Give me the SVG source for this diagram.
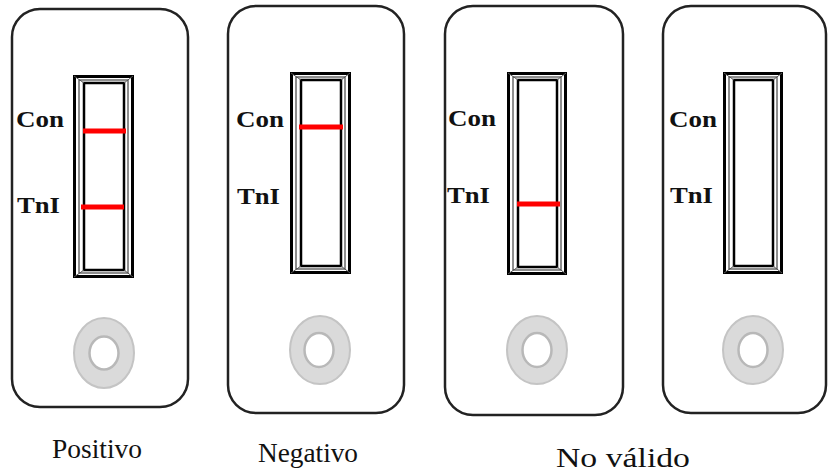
<svg xmlns="http://www.w3.org/2000/svg" width="828" height="472" viewBox="0 0 828 472">
  <style>
    .card { fill: #ffffff; stroke: #222222; stroke-width: 2.5; }
    .win-outer { fill: none; stroke: #000000; stroke-width: 3; }
    .win-mid { fill: none; stroke: #444444; stroke-width: 1.2; }
    .win-inner { fill: #ffffff; stroke: #000000; stroke-width: 2.5; }
    .bevel { stroke: #555555; stroke-width: 1; }
    .band { stroke: #ff0000; stroke-width: 5; }
    .well-outer { fill: #dadada; stroke: #c4c4c4; stroke-width: 2; }
    .well-inner { fill: #ffffff; stroke: #b8b8b8; stroke-width: 2.5; }
    .lbl { font-family: "Liberation Serif", "Times New Roman", serif; font-size: 23px; font-weight: bold; fill: #111111; }
    .cap { font-family: "Liberation Serif", "Times New Roman", serif; font-size: 28px; fill: #111111; }
  </style>
  <rect width="828" height="472" fill="#ffffff"/>

  <g id="card-positivo">
    <rect class="card" x="12" y="9" width="176" height="398" rx="28" ry="28"/>
    <rect class="win-outer" x="74.5" y="76.5" width="58" height="200"/>
    <rect class="win-mid" x="79" y="80" width="49" height="193"/>
    <rect class="win-inner" x="84" y="83" width="40" height="187"/>
    <line class="bevel" x1="74" y1="76" x2="84" y2="83"/>
    <line class="bevel" x1="133" y1="76" x2="124" y2="83"/>
    <line class="bevel" x1="74" y1="277" x2="84" y2="270"/>
    <line class="bevel" x1="133" y1="277" x2="124" y2="270"/>
    <line class="band" x1="83" y1="131" x2="126" y2="131"/>
    <line class="band" x1="81" y1="207" x2="124" y2="207"/>
    <text class="lbl" x="16" y="127" textLength="48" lengthAdjust="spacingAndGlyphs">Con</text>
    <text class="lbl" x="17" y="213" textLength="43" lengthAdjust="spacingAndGlyphs">TnI</text>
    <ellipse class="well-outer" cx="104" cy="353" rx="30" ry="35"/>
    <ellipse class="well-inner" cx="104" cy="353" rx="14.5" ry="16.5"/>
  </g>

  <g id="card-negativo">
    <rect class="card" x="228" y="6" width="176" height="407" rx="28" ry="28"/>
    <rect class="win-outer" x="291.5" y="73.5" width="58" height="199"/>
    <rect class="win-mid" x="296" y="77" width="49" height="192"/>
    <rect class="win-inner" x="301" y="80" width="40" height="186"/>
    <line class="bevel" x1="291" y1="73" x2="301" y2="80"/>
    <line class="bevel" x1="350" y1="73" x2="341" y2="80"/>
    <line class="bevel" x1="291" y1="273" x2="301" y2="266"/>
    <line class="bevel" x1="350" y1="273" x2="341" y2="266"/>
    <line class="band" x1="299" y1="127" x2="343" y2="127"/>
    <text class="lbl" x="236" y="127" textLength="48" lengthAdjust="spacingAndGlyphs">Con</text>
    <text class="lbl" x="237" y="204" textLength="43" lengthAdjust="spacingAndGlyphs">TnI</text>
    <ellipse class="well-outer" cx="320" cy="350" rx="30" ry="34"/>
    <ellipse class="well-inner" cx="319" cy="350" rx="14.5" ry="17"/>
  </g>

  <g id="card-novalido-1">
    <rect class="card" x="445" y="6" width="178" height="409" rx="28" ry="28"/>
    <rect class="win-outer" x="508.5" y="73.5" width="57" height="200"/>
    <rect class="win-mid" x="513" y="77" width="48" height="193"/>
    <rect class="win-inner" x="518" y="80" width="39" height="187"/>
    <line class="bevel" x1="508" y1="73" x2="518" y2="80"/>
    <line class="bevel" x1="566" y1="73" x2="557" y2="80"/>
    <line class="bevel" x1="508" y1="274" x2="518" y2="267"/>
    <line class="bevel" x1="566" y1="274" x2="557" y2="267"/>
    <line class="band" x1="517" y1="204" x2="560" y2="204"/>
    <text class="lbl" x="448" y="126" textLength="48" lengthAdjust="spacingAndGlyphs">Con</text>
    <text class="lbl" x="447" y="203" textLength="43" lengthAdjust="spacingAndGlyphs">TnI</text>
    <ellipse class="well-outer" cx="537" cy="350" rx="30" ry="34"/>
    <ellipse class="well-inner" cx="537" cy="350" rx="14.5" ry="17"/>
  </g>

  <g id="card-novalido-2">
    <rect class="card" x="663" y="6" width="163" height="407" rx="28" ry="28"/>
    <rect class="win-outer" x="724.5" y="73.5" width="57" height="199"/>
    <rect class="win-mid" x="729" y="77" width="48" height="192"/>
    <rect class="win-inner" x="734" y="80" width="39" height="186"/>
    <line class="bevel" x1="724" y1="73" x2="734" y2="80"/>
    <line class="bevel" x1="782" y1="73" x2="773" y2="80"/>
    <line class="bevel" x1="724" y1="273" x2="734" y2="266"/>
    <line class="bevel" x1="782" y1="273" x2="773" y2="266"/>
    <text class="lbl" x="669" y="127" textLength="48" lengthAdjust="spacingAndGlyphs">Con</text>
    <text class="lbl" x="670" y="203" textLength="43" lengthAdjust="spacingAndGlyphs">TnI</text>
    <ellipse class="well-outer" cx="753" cy="350" rx="30" ry="34"/>
    <ellipse class="well-inner" cx="753" cy="350" rx="14.5" ry="17"/>
  </g>

  <g id="captions">
    <text class="cap" x="52" y="458" textLength="90" lengthAdjust="spacingAndGlyphs">Positivo</text>
    <text class="cap" x="258" y="462" textLength="100" lengthAdjust="spacingAndGlyphs">Negativo</text>
    <text class="cap" x="556" y="467" textLength="134" lengthAdjust="spacingAndGlyphs">No válido</text>
  </g>
</svg>
